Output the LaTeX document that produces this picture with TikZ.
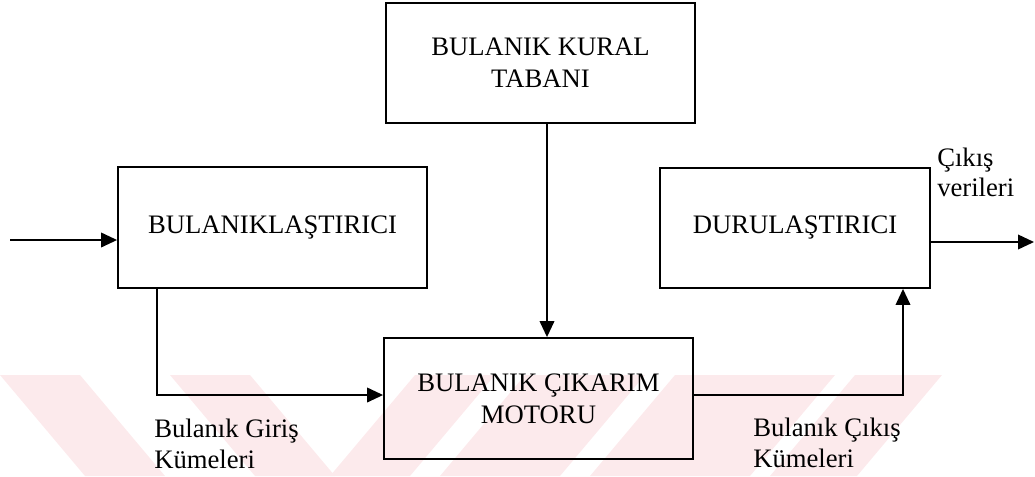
\documentclass[tikz,border=0pt]{standalone}
\usepackage{fontspec}
\setmainfont{Liberation Serif}
\usetikzlibrary{arrows.meta}
\definecolor{wmpink}{RGB}{252,234,236}
\begin{document}
\begin{tikzpicture}[x=0.75pt,y=-0.75pt,
  txt/.style={font=\fontsize{20}{24}\selectfont},
  box/.style={txt,draw,line width=1.4pt,inner sep=0pt,align=center},
  lbl/.style={txt,inner sep=0pt,anchor=base west},
  arr/.style={line width=1.2pt,-{Triangle[length=12pt,width=11pt]}},
  wm/.style={fill=wmpink,draw=none}]
\useasboundingbox (0,0) rectangle (1035,476);
% faint watermark
\fill[wm] (0,375) -- (80,375) -- (165,476) -- (85,476) -- cycle;
\fill[wm] (170,375) -- (250,375) -- (335,476) -- (255,476) -- cycle;
\fill[wm] (330,476) -- (410,476) -- (495,375) -- (415,375) -- cycle;
\fill[wm] (440,476) -- (560,476) -- (645,375) -- (525,375) -- cycle;
\fill[wm] (590,476) -- (750,476) -- (835,375) -- (675,375) -- cycle;
\fill[wm] (770,476) -- (857,476) -- (942,375) -- (855,375) -- cycle;
% boxes
\node[box,minimum width=231.75pt,minimum height=90pt] (kural) at (540.5,63) {BULANIK KURAL\\TABANI};
\node[box,minimum width=231.75pt,minimum height=90.75pt] (fuzz) at (272.5,227.5) {BULANIKLAŞTIRICI};
\node[box,minimum width=202.5pt,minimum height=90pt] (defuzz) at (795,228) {DURULAŞTIRICI};
\node[box,minimum width=231.75pt,minimum height=90.75pt] (inf) at (538.5,398.5) {BULANIK ÇIKARIM\\MOTORU};
% free ends
\coordinate (in) at (10,240);
\coordinate (out) at (1034,242);
% connectors
\draw[arr] (in) -- (in -| fuzz.west);
\draw[arr] (fuzz.south -| 157,0) |- (inf.west |- 0,395);
\draw[arr] (kural.south -| 547,0) -- (inf.north -| 547,0);
\draw[arr] (inf.east |- 0,395) -| (defuzz.south -| 903,0);
\draw[arr] (defuzz.east |- out) -- (out);
% labels
\node[lbl] (gi1) at (154,437) {Bulanık Giriş};
\node[lbl] (gi2) at (154,468) {Kümeleri};
\node[lbl] (co1) at (753,436) {Bulanık Çıkış};
\node[lbl] (co2) at (753,467) {Kümeleri};
\node[lbl] (ov1) at (937,166) {Çıkış};
\node[lbl] (ov2) at (937,196) {verileri};
\end{tikzpicture}
\end{document}
